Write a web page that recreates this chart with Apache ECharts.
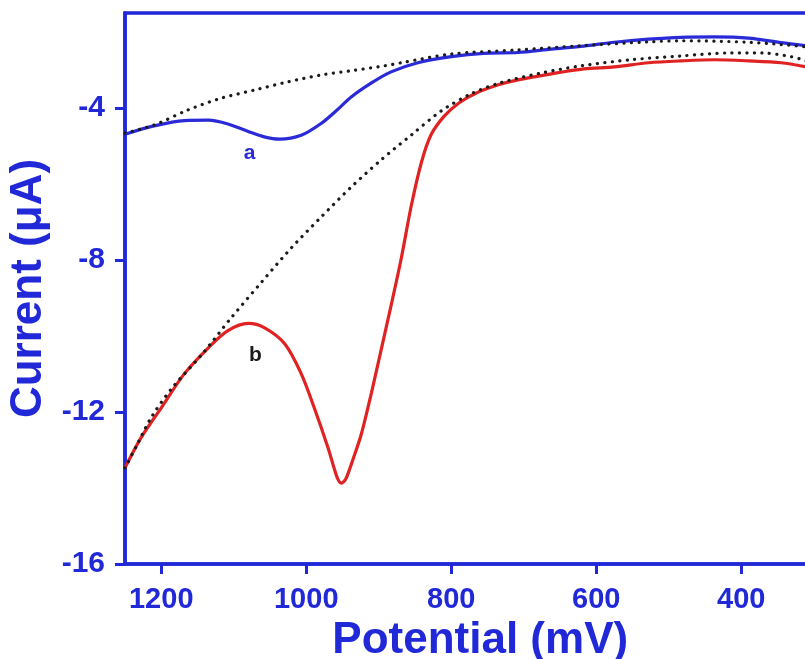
<!DOCTYPE html>
<html>
<head>
<meta charset="utf-8">
<script src="https://cdn.jsdelivr.net/npm/echarts@6/dist/echarts.min.js"></script>
<style>html,body{margin:0;padding:0;background:#fff;}#c{width:805px;height:659px;}</style>
</head>
<body>
<div id="c"></div>
<script>
// Potential (mV) tick labels
const xTicks = [1200, 1000, 800, 600, 400];
// Curve a (blue)
const curveA = [[1250,-4.69],[1210,-4.47],[1168,-4.33],[1135,-4.32],[1108,-4.42],[1080,-4.62],[1058,-4.76],[1037,-4.82],[1007,-4.72],[979,-4.40],[959,-4.08],[938,-3.71],[910,-3.34],[883,-3.05],[846,-2.81],[800,-2.65],[755,-2.56],[708,-2.54],[662,-2.45],[617,-2.37],[575,-2.27],[528,-2.19],[483,-2.14],[437,-2.13],[390,-2.16],[345,-2.28],[310,-2.36]];
// Baseline for curve a (dotted)
const baseA = [[1250,-4.66],[1210,-4.45],[1163,-4.05],[1117,-3.74],[1072,-3.53],[1025,-3.31],[979,-3.13],[938,-3.02],[892,-2.89],[869,-2.81],[800,-2.58],[708,-2.47],[621,-2.36],[528,-2.26],[483,-2.23],[437,-2.24],[390,-2.27],[345,-2.33],[310,-2.39]];
// Curve b (red)
const curveB = [[1250,-13.47],[1228,-12.68],[1200,-11.89],[1168,-10.99],[1135,-10.31],[1108,-9.86],[1080,-9.67],[1058,-9.78],[1030,-10.20],[1007,-10.99],[989,-11.89],[970,-12.94],[962,-13.45],[957,-13.74],[952,-13.87],[946,-13.78],[941,-13.55],[935,-13.22],[924,-12.58],[910,-11.49],[897,-10.39],[883,-9.20],[869,-7.96],[855,-6.56],[841,-5.42],[828,-4.71],[810,-4.22],[789,-3.86],[766,-3.61],[735,-3.39],[708,-3.26],[662,-3.10],[617,-2.97],[575,-2.92],[528,-2.81],[483,-2.76],[437,-2.73],[390,-2.76],[345,-2.81],[310,-2.92]];
// Baseline for curve b (dotted)
const baseB = [[1250,-13.47],[1234,-12.89],[1214,-12.15],[1186,-11.39],[1145,-10.51],[1103,-9.51],[1062,-8.59],[1021,-7.69],[979,-6.86],[938,-6.08],[897,-5.37],[855,-4.71],[814,-4.08],[772,-3.62],[731,-3.33],[676,-3.08],[621,-2.89],[552,-2.73],[483,-2.63],[414,-2.55],[372,-2.55],[331,-2.65],[310,-2.76]];
// Curve labels
const labelA = [1078, -5.2];
const labelB = [1070, -10.5];

const AX = '#2128d8';
const FONT = '"Liberation Sans", Arial, sans-serif';
const chart = echarts.init(document.getElementById('c'), null, {renderer:'canvas'});
const dotStyle = {color:'#1a1a1a', width:3.2, type:[0.1,7.4], cap:'round'};
chart.setOption({
  animation:false,
  backgroundColor:'#fff',
  grid:{left:125, top:13, right:-30.5, bottom:95, show:true, borderColor:AX, borderWidth:3.5, backgroundColor:'transparent', outerBoundsMode:'none', containLabel:false},
  xAxis:{
    type:'value', inverse:true, min:270, max:1250,
    name:'Potential (mV)', nameLocation:'middle', nameGap:33,
    nameTextStyle:{color:AX, fontSize:44, fontWeight:'bold', fontFamily:FONT},
    axisLine:{show:true, onZero:false, lineStyle:{color:AX, width:3.5}},
    axisTick:{show:true, inside:false, length:10, customValues:xTicks, lineStyle:{color:AX, width:3}},
    axisLabel:{customValues:xTicks, formatter:v => String(v), color:AX, fontSize:29, fontWeight:'bold', fontFamily:FONT, margin:21},
    splitLine:{show:false}
  },
  yAxis:{
    type:'value', min:-16, max:-1.5, interval:4,
    name:'Current (\u03bcA)', nameLocation:'middle', nameGap:67, nameRotate:90,
    nameTextStyle:{color:AX, fontSize:44, fontWeight:'bold', fontFamily:FONT},
    axisLine:{show:true, onZero:false, lineStyle:{color:AX, width:3.5}},
    axisTick:{show:true, inside:false, length:10, lineStyle:{color:AX, width:3}},
    axisLabel:{color:AX, fontSize:30, fontWeight:'bold', fontFamily:FONT, margin:20, showMaxLabel:false},
    splitLine:{show:false}
  },
  series:[
    {type:'line', data:baseA, smooth:0.3, symbol:'none', lineStyle:dotStyle, z:3},
    {type:'line', data:baseB, smooth:0.3, symbol:'none', lineStyle:dotStyle, z:3},
    {type:'line', data:curveA, smooth:0.3, symbol:'none', lineStyle:{color:'#2a2ad8', width:3.2}, z:2,
      markPoint:{symbol:'circle', symbolSize:0, data:[{coord:labelA, label:{show:true, formatter:'a', color:'#2a2ad8', fontSize:21, fontWeight:'bold', fontFamily:FONT, position:'inside'}}]}},
    {type:'line', data:curveB, smooth:0.3, symbol:'none', lineStyle:{color:'#e02222', width:3.2}, z:2,
      markPoint:{symbol:'circle', symbolSize:0, data:[{coord:labelB, label:{show:true, formatter:'b', color:'#1a1a1a', fontSize:21, fontWeight:'bold', fontFamily:FONT, position:'inside'}}]}}
  ]
});
</script>
</body>
</html>
